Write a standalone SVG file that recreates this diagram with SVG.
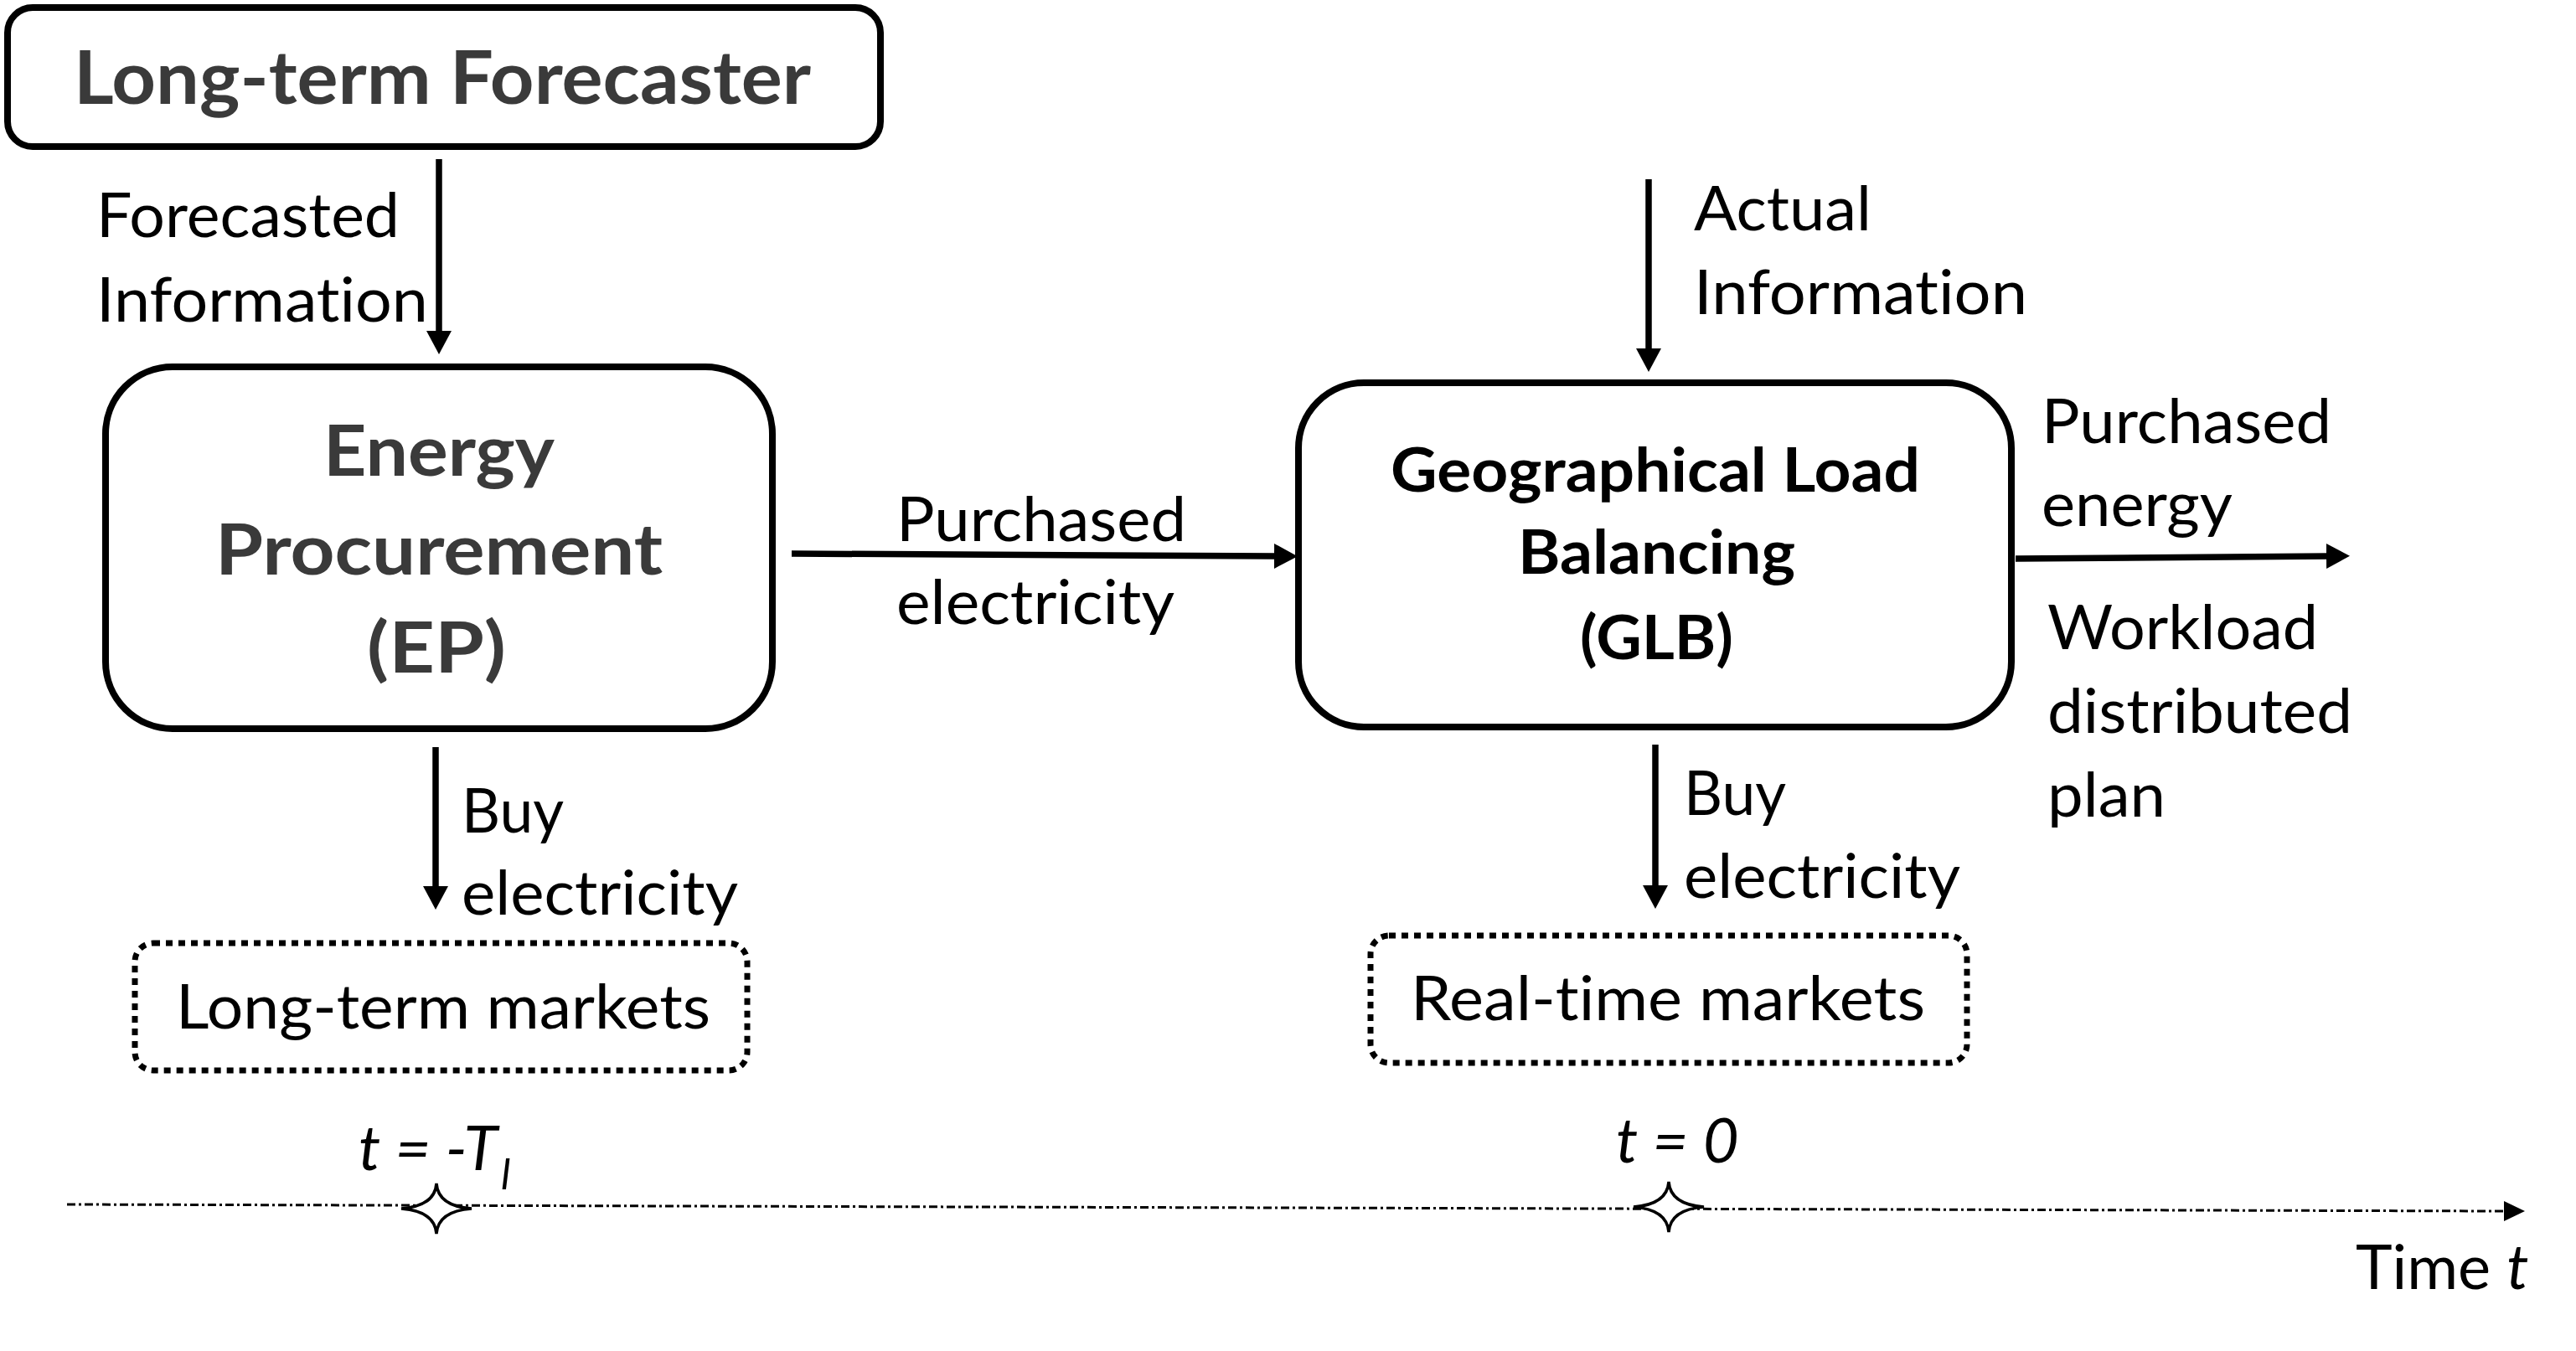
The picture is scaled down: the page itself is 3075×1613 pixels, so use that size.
<svg xmlns="http://www.w3.org/2000/svg" width="3075" height="1613" viewBox="0 0 3075 1613">
<style>
  .box { fill: #ffffff; stroke: #000000; stroke-width: 8; }
  .dot { fill: #ffffff; stroke: #000000; stroke-width: 7; stroke-dasharray: 8 7; }
  .conn { stroke: #000000; stroke-width: 7.5; fill: none; }
  .time { stroke: #000000; stroke-width: 3; fill: none; stroke-dasharray: 10 4 3 4; }
  .star { fill: #ffffff; stroke: #000000; stroke-width: 3.5; stroke-linejoin: miter; }
  text { font-variant-ligatures: none; font-feature-settings: "liga" 0, "clig" 0; }
  .tb { font-family: Lato, "Open Sans", "Liberation Sans", sans-serif; font-weight: 700; }
  .gray { fill: #3a3a3a; }
  .blk { fill: #000000; }
  .lbl { font-family: Lato, "Open Sans", "Liberation Sans", sans-serif; font-size: 74px; fill: #000000; }
  .it { font-style: italic; }
</style>
<defs>
  <marker id="ah" markerUnits="userSpaceOnUse" markerWidth="30" markerHeight="30" refX="2" refY="15" orient="auto">
    <path d="M0,0 L28,15 L0,30 Z" fill="#000000"/>
  </marker>
  <marker id="ahs" markerUnits="userSpaceOnUse" markerWidth="26" markerHeight="24" refX="1" refY="12" orient="auto">
    <path d="M0,0 L25,12 L0,24 Z" fill="#000000"/>
  </marker>
</defs>

<g id="connectors">
  <line class="conn" x1="524" y1="190" x2="524" y2="397" marker-end="url(#ah)"/>
  <line class="conn" x1="945" y1="661" x2="1523" y2="664" marker-end="url(#ah)"/>
  <line class="conn" x1="1968" y1="214" x2="1968" y2="418" marker-end="url(#ah)"/>
  <line class="conn" x1="2406" y1="667" x2="2779" y2="664" marker-end="url(#ah)"/>
  <line class="conn" x1="520" y1="892" x2="520" y2="1060" marker-end="url(#ah)"/>
  <line class="conn" x1="1976" y1="889" x2="1976" y2="1059" marker-end="url(#ah)"/>
</g>

<g id="forecaster">
  <rect class="box" x="9" y="9" width="1042" height="166" rx="30"/>
  <text class="tb gray" x="88" y="124" font-size="88" textLength="880" lengthAdjust="spacingAndGlyphs">Long-term Forecaster</text>
</g>

<g id="label-forecasted">
  <text class="lbl" x="115" y="283" textLength="362" lengthAdjust="spacingAndGlyphs">Forecasted</text>
  <text class="lbl" x="115" y="384" textLength="396" lengthAdjust="spacingAndGlyphs">Information</text>
</g>

<g id="ep">
  <rect class="box" x="126" y="438" width="796" height="432" rx="80"/>
  <text class="tb gray" x="386" y="568" font-size="84" textLength="276" lengthAdjust="spacingAndGlyphs">Energy</text>
  <text class="tb gray" x="257" y="686" font-size="84" textLength="534" lengthAdjust="spacingAndGlyphs">Procurement</text>
  <text class="tb gray" x="438" y="803" font-size="84" textLength="166" lengthAdjust="spacingAndGlyphs">(EP)</text>
</g>

<g id="label-purchased-electricity">
  <text class="lbl" x="1070" y="646" textLength="346" lengthAdjust="spacingAndGlyphs">Purchased</text>
  <text class="lbl" x="1070" y="745" textLength="332" lengthAdjust="spacingAndGlyphs">electricity</text>
</g>

<g id="glb">
  <rect class="box" x="1550" y="457" width="851" height="411" rx="78"/>
  <text class="tb blk" x="1660" y="587" font-size="72" textLength="632" lengthAdjust="spacingAndGlyphs">Geographical Load</text>
  <text class="tb blk" x="1812" y="685" font-size="72" textLength="331" lengthAdjust="spacingAndGlyphs">Balancing</text>
  <text class="tb blk" x="1886" y="787" font-size="72" textLength="183" lengthAdjust="spacingAndGlyphs">(GLB)</text>
</g>

<g id="label-actual">
  <text class="lbl" x="2022" y="275" textLength="212" lengthAdjust="spacingAndGlyphs">Actual</text>
  <text class="lbl" x="2022" y="375" textLength="398" lengthAdjust="spacingAndGlyphs">Information</text>
</g>

<g id="label-outputs">
  <text class="lbl" x="2437" y="529" textLength="346" lengthAdjust="spacingAndGlyphs">Purchased</text>
  <text class="lbl" x="2437" y="628" textLength="228" lengthAdjust="spacingAndGlyphs">energy</text>
  <text class="lbl" x="2444" y="775" textLength="323" lengthAdjust="spacingAndGlyphs">Workload</text>
  <text class="lbl" x="2444" y="875" textLength="364" lengthAdjust="spacingAndGlyphs">distributed</text>
  <text class="lbl" x="2444" y="975" textLength="141" lengthAdjust="spacingAndGlyphs">plan</text>
</g>

<g id="label-buy-left">
  <text class="lbl" x="551" y="994" textLength="122" lengthAdjust="spacingAndGlyphs">Buy</text>
  <text class="lbl" x="551" y="1092" textLength="330" lengthAdjust="spacingAndGlyphs">electricity</text>
</g>

<g id="label-buy-right">
  <text class="lbl" x="2010" y="973" textLength="122" lengthAdjust="spacingAndGlyphs">Buy</text>
  <text class="lbl" x="2010" y="1072" textLength="330" lengthAdjust="spacingAndGlyphs">electricity</text>
</g>

<g id="long-term-markets">
  <rect class="dot" x="161" y="1126" width="731" height="152" rx="22"/>
  <text class="lbl" x="210" y="1228" textLength="638" lengthAdjust="spacingAndGlyphs">Long-term markets</text>
</g>

<g id="real-time-markets">
  <rect class="dot" x="1636" y="1117" width="712" height="152" rx="22"/>
  <text class="lbl" x="1684" y="1218" textLength="614" lengthAdjust="spacingAndGlyphs">Real-time markets</text>
</g>

<g id="timeline">
  <line class="time" x1="80" y1="1438" x2="2990" y2="1446" marker-end="url(#ahs)"/>
  <path class="star" d="M521,1413 Q523,1440 563,1443 Q523,1446 521,1473 Q519,1446 479,1443 Q519,1440 521,1413 Z"/>
  <path class="star" d="M1992,1411 Q1994,1438 2034,1441 Q1994,1444 1992,1471 Q1990,1444 1950,1441 Q1990,1438 1992,1411 Z"/>
  <text class="lbl it" x="428" y="1397">t = -T<tspan x="598" y="1420" font-size="50">l</tspan></text>
  <text class="lbl it" x="1929" y="1388">t = 0</text>
  <text class="lbl" x="2812" y="1539">Time <tspan class="it">t</tspan></text>
</g>
</svg>
